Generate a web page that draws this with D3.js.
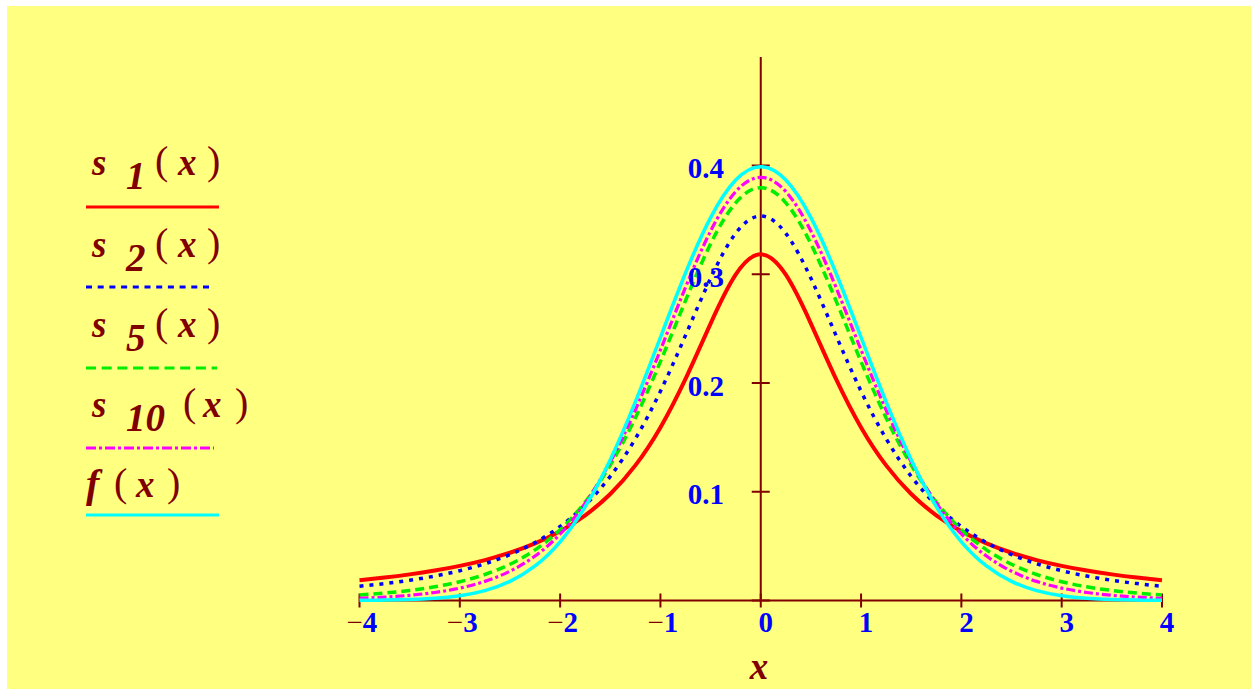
<!DOCTYPE html>
<html>
<head>
<meta charset="utf-8">
<script src="https://cdn.jsdelivr.net/npm/d3@7/dist/d3.min.js"></script>
<style>
  html, body { margin: 0; padding: 0; background: #ffffff; }
  svg { display: block; }
</style>
</head>
<body>
<svg id="chart" width="1251" height="689"></svg>
<script>
// Sample points along x (step 0.25)
const xs = [-4, -3.75, -3.5, -3.25, -3, -2.75, -2.5, -2.25, -2, -1.75, -1.5, -1.25, -1, -0.75, -0.5, -0.25,
            0, 0.25, 0.5, 0.75, 1, 1.25, 1.5, 1.75, 2, 2.25, 2.5, 2.75, 3, 3.25, 3.5, 3.75, 4];

// Student t densities with 1, 2, 5, 10 degrees of freedom, and the standard normal density
const s1 = [0.01872, 0.02113, 0.02402, 0.02753, 0.03183, 0.03718, 0.04390, 0.05250, 0.06366, 0.07835, 0.09794, 0.12422, 0.15915, 0.20372, 0.25465, 0.29959,
            0.31831, 0.29959, 0.25465, 0.20372, 0.15915, 0.12422, 0.09794, 0.07835, 0.06366, 0.05250, 0.04390, 0.03718, 0.03183, 0.02753, 0.02402, 0.02113, 0.01872];
const s2 = [0.01309, 0.01553, 0.01859, 0.02246, 0.02741, 0.03382, 0.04220, 0.05328, 0.06804, 0.08779, 0.11413, 0.14872, 0.19245, 0.24378, 0.29630, 0.33761,
            0.35355, 0.33761, 0.29630, 0.24378, 0.19245, 0.14872, 0.11413, 0.08779, 0.06804, 0.05328, 0.04220, 0.03382, 0.02741, 0.02246, 0.01859, 0.01553, 0.01309];
const s5 = [0.00512, 0.00685, 0.00924, 0.01259, 0.01729, 0.02393, 0.03333, 0.04657, 0.06509, 0.09054, 0.12452, 0.16790, 0.21968, 0.27570, 0.32792, 0.36572,
            0.37961, 0.36572, 0.32792, 0.27570, 0.21968, 0.16790, 0.12452, 0.09054, 0.06509, 0.04657, 0.03333, 0.02393, 0.01729, 0.01259, 0.00924, 0.00685, 0.00512];
const s10 = [0.00203, 0.00311, 0.00478, 0.00738, 0.01140, 0.01757, 0.02694, 0.04089, 0.06115, 0.08953, 0.12744, 0.17510, 0.23036, 0.28798, 0.33970, 0.37600,
             0.38911, 0.37600, 0.33970, 0.28798, 0.23036, 0.17510, 0.12744, 0.08953, 0.06115, 0.04089, 0.02694, 0.01757, 0.01140, 0.00738, 0.00478, 0.00311, 0.00203];
const fN = [0.00013, 0.00035, 0.00087, 0.00203, 0.00443, 0.00909, 0.01753, 0.03174, 0.05399, 0.08628, 0.12952, 0.18265, 0.24197, 0.30114, 0.35207, 0.38667,
            0.39894, 0.38667, 0.35207, 0.30114, 0.24197, 0.18265, 0.12952, 0.08628, 0.05399, 0.03174, 0.01753, 0.00909, 0.00443, 0.00203, 0.00087, 0.00035, 0.00013];

const xTicks = [-4, -3, -2, -1, 0, 1, 2, 3, 4];
const yTicks = [0.1, 0.2, 0.3, 0.4];
const yTickLabels = ["0.1", "0.2", "0.3", "0.4"];

// Legend entries: function name and its subscript
const legendNames = ["s", "s", "s", "s", "f"];
const legendSubs = ["1", "2", "5", "10", ""];

const series = [
  { values: s1,  color: "#ff0000", dash: null,          width: 4 },
  { values: s2,  color: "#0000ff", dash: "4,6",         width: 3.5 },
  { values: s5,  color: "#00ee00", dash: "9,5",         width: 3.5 },
  { values: s10, color: "#ff00ff", dash: "9,3,3,3",     width: 3.2 },
  { values: fN,  color: "#00ffff", dash: null,          width: 3.5 }
];
const legendDash = [null, "6,5.7", "10,5.7", "10,3,3,3", null];

const axisColor = "#800000";
const labelColor = "#0000ff";
const textColor = "#800000";
const serif = "'Liberation Serif', 'Times New Roman', serif";

const svg = d3.select("#chart");

// yellow plotting panel
svg.append("rect")
  .attr("x", 7).attr("y", 6)
  .attr("width", 1251 - 7).attr("height", 689 - 6)
  .attr("fill", "#ffff80");

const x = d3.scaleLinear().domain([-4, 4]).range([359.5, 1162]);
const y = d3.scaleLinear().domain([0, 0.4]).range([600.5, 165.5]);

// axes
const axisG = svg.append("g");
axisG.append("line")
  .attr("x1", x(-4)).attr("x2", x(4))
  .attr("y1", y(0)).attr("y2", y(0))
  .attr("stroke", axisColor).attr("stroke-width", 2);
axisG.append("line")
  .attr("x1", x(0)).attr("x2", x(0))
  .attr("y1", 57).attr("y2", y(0))
  .attr("stroke", axisColor).attr("stroke-width", 2);

// x ticks
axisG.selectAll("line.xt").data(xTicks).enter().append("line")
  .attr("class", "xt")
  .attr("x1", d => x(d)).attr("x2", d => x(d))
  .attr("y1", y(0) - 7).attr("y2", y(0) + 7)
  .attr("stroke", axisColor).attr("stroke-width", 2);

// y ticks (including the origin)
axisG.selectAll("line.yt").data([0].concat(yTicks)).enter().append("line")
  .attr("class", "yt")
  .attr("x1", x(0) - 9).attr("x2", x(0) + 9)
  .attr("y1", d => y(d)).attr("y2", d => y(d))
  .attr("stroke", axisColor).attr("stroke-width", 2);

// curves
const line = d3.line()
  .x((d, i) => x(xs[i]))
  .y(d => y(d))
  .curve(d3.curveNatural);

const curveG = svg.append("g");
series.forEach(s => {
  curveG.append("path")
    .attr("d", line(s.values))
    .attr("fill", "none")
    .attr("stroke", s.color)
    .attr("stroke-width", s.width)
    .attr("stroke-dasharray", s.dash)
    .attr("stroke-linejoin", "round");
});

// y tick labels
svg.append("g").selectAll("text").data(yTicks).enter().append("text")
  .attr("x", 724)
  .attr("y", d => y(d) + 12.5)
  .attr("text-anchor", "end")
  .attr("font-family", serif)
  .attr("font-weight", "bold")
  .attr("font-size", 29)
  .attr("fill", labelColor)
  .text((d, i) => yTickLabels[i]);

// x tick labels; the minus sign is drawn in the axis colour
const xl = svg.append("g");
xTicks.forEach(t => {
  const txt = xl.append("text")
    .attr("y", 632)
    .attr("font-family", serif)
    .attr("font-weight", "bold")
    .attr("font-size", 29);
  if (t < 0) {
    txt.attr("x", x(t) - 13).attr("text-anchor", "start");
    txt.append("tspan").attr("fill", axisColor).attr("font-weight", "normal").text("\u2212");
    txt.append("tspan").attr("fill", labelColor).text(String(Math.abs(t)));
  } else {
    txt.attr("x", x(t) + 5).attr("text-anchor", "middle")
      .attr("fill", labelColor).text(String(t));
  }
});

// x axis title
svg.append("text")
  .attr("x", 759).attr("y", 679)
  .attr("text-anchor", "middle")
  .attr("font-family", serif)
  .attr("font-weight", "bold").attr("font-style", "italic")
  .attr("font-size", 37)
  .attr("fill", textColor)
  .text("x");

// legend
const legendG = svg.append("g")
  .attr("font-family", serif)
  .attr("font-weight", "bold").attr("font-style", "italic")
  .attr("font-size", 37)
  .attr("fill", textColor);

const rowBase = [175, 257, 337, 417, 497];
const rowLine = [207, 287, 368, 448, 515];
const lineEnd = [219, 211, 217, 214, 219];

legendNames.forEach((name, i) => {
  const base = rowBase[i];
  const sub = legendSubs[i];
  const t = legendG.append("text").attr("y", base);
  let parenX;
  if (sub) {
    t.append("tspan").attr("x", 92).attr("y", base).text(name);
    t.append("tspan").attr("x", 126).attr("y", base + 14).attr("font-size", 39).text(sub);
    parenX = sub.length > 1 ? 183 : 155;
    t.append("tspan").attr("x", parenX).attr("y", base - 1).attr("font-style", "normal").attr("font-weight", "normal").attr("font-size", 40).text("(");
    t.append("tspan").attr("x", parenX + (sub.length > 1 ? 20 : 23)).attr("y", base).text("x");
    t.append("tspan").attr("x", parenX + 52).attr("y", base - 1).attr("font-style", "normal").attr("font-weight", "normal").attr("font-size", 40).text(")");
  } else {
    t.append("tspan").attr("x", 86).attr("y", base).attr("font-size", 40).text(name);
    parenX = 114;
    t.append("tspan").attr("x", parenX).attr("y", base - 1).attr("font-style", "normal").attr("font-weight", "normal").attr("font-size", 40).text("(");
    t.append("tspan").attr("x", parenX + 22).attr("y", base).text("x");
    t.append("tspan").attr("x", parenX + 53).attr("y", base - 1).attr("font-style", "normal").attr("font-weight", "normal").attr("font-size", 40).text(")");
  }
  legendG.append("line")
    .attr("x1", 86).attr("x2", lineEnd[i])
    .attr("y1", rowLine[i]).attr("y2", rowLine[i])
    .attr("stroke", series[i].color)
    .attr("stroke-width", 3)
    .attr("stroke-dasharray", legendDash[i]);
});
</script>
</body>
</html>
